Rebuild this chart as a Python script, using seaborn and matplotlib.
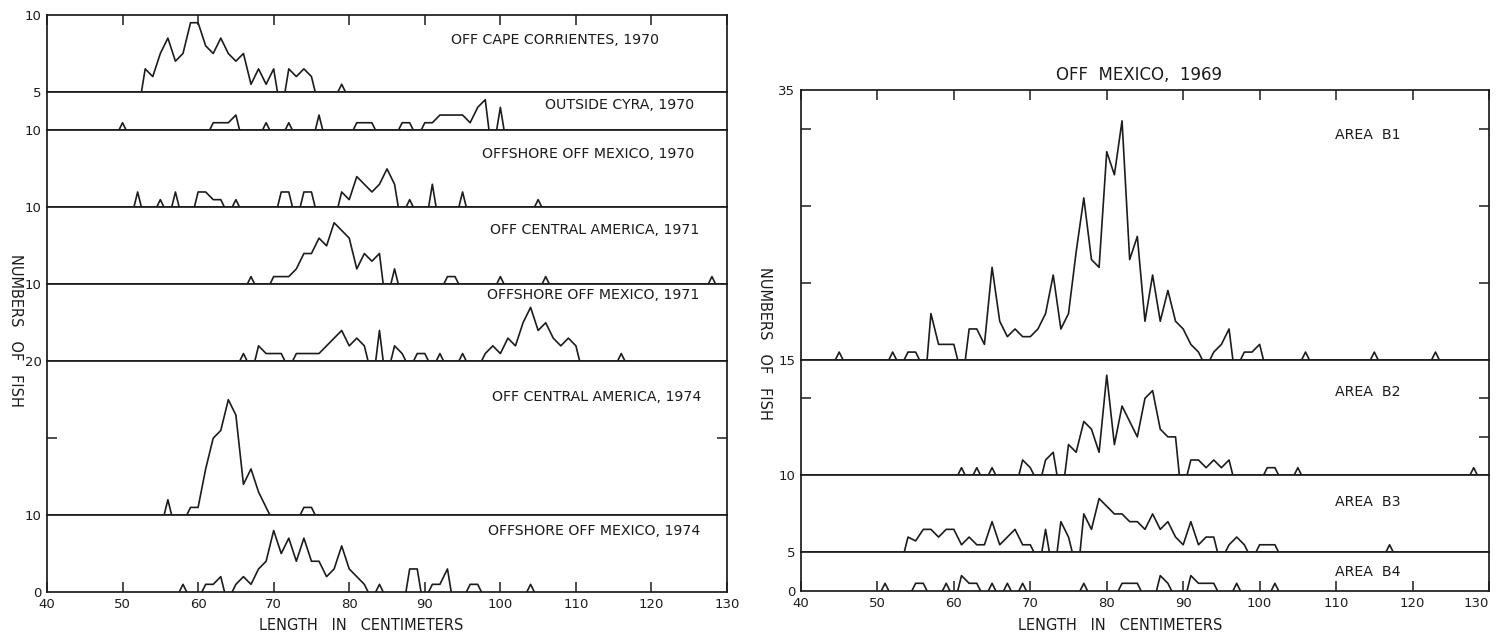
import numpy as np
import pandas as pd
import matplotlib
matplotlib.use("Agg")
import matplotlib.pyplot as plt
import seaborn as sns

# ---------------- data: fish counts per 1-cm length class ----------------
# Left block (several areas / years)
cape70_len = [53, 54, 55, 56, 57, 58, 59, 60, 61, 62, 63, 64, 65, 66, 67, 68, 69, 70, 72, 73, 74, 75, 79]
cape70_n = [3, 2, 5, 7, 4, 5, 9, 9, 6, 5, 7, 5, 4, 5, 1, 3, 1, 3, 3, 2, 3, 2, 1]

cyra70_len = [50, 62, 63, 64, 65, 69, 72, 76, 81, 82, 83, 87, 88, 90, 91, 92, 93, 94, 95, 96, 97, 98, 100]
cyra70_n = [1, 1, 1, 1, 2, 1, 1, 2, 1, 1, 1, 1, 1, 1, 1, 2, 2, 2, 2, 1, 3, 4, 3]

mex70_len = [52, 55, 57, 60, 61, 62, 63, 65, 71, 72, 74, 75, 79, 80, 81, 82, 83, 84, 85, 86, 88, 91, 95, 105]
mex70_n = [2, 1, 2, 2, 2, 1, 1, 1, 2, 2, 2, 2, 2, 1, 4, 3, 2, 3, 5, 3, 1, 3, 2, 1]

ca71_len = [67, 70, 71, 72, 73, 74, 75, 76, 77, 78, 79, 80, 81, 82, 83, 84, 86, 93, 94, 100, 106, 128]
ca71_n = [1, 1, 1, 1, 2, 4, 4, 6, 5, 8, 7, 6, 2, 4, 3, 4, 2, 1, 1, 1, 1, 1]

mex71_len = [66, 68, 69, 70, 71, 73, 74, 75, 76, 77, 78, 79, 80, 81, 82, 84, 86, 87, 89, 90, 92, 95,
             98, 99, 100, 101, 102, 103, 104, 105, 106, 107, 108, 109, 110, 116]
mex71_n = [1, 2, 1, 1, 1, 1, 1, 1, 1, 2, 3, 4, 2, 3, 2, 4, 2, 1, 1, 1, 1, 1,
           1, 2, 1, 3, 2, 5, 7, 4, 5, 3, 2, 3, 2, 1]

ca74_len = [56, 59, 60, 61, 62, 63, 64, 65, 66, 67, 68, 69, 74, 75]
ca74_n = [2, 1, 1, 6, 10, 11, 15, 13, 4, 6, 3, 1, 1, 1]

mex74_len = [58, 61, 62, 63, 65, 66, 67, 68, 69, 70, 71, 72, 73, 74, 75, 76, 77, 78, 79, 80, 81, 82,
             84, 88, 89, 91, 92, 93, 96, 97, 104]
mex74_n = [1, 1, 1, 2, 1, 2, 1, 3, 4, 8, 5, 7, 4, 7, 4, 4, 2, 3, 6, 3, 2, 1,
           1, 3, 3, 1, 1, 3, 1, 1, 1]

# Right block (off Mexico, 1969, by area)
b1_len = [45, 52, 54, 55, 57, 58, 59, 60, 62, 63, 64, 65, 66, 67, 68, 69, 70, 71, 72, 73, 74, 75, 76, 77,
          78, 79, 80, 81, 82, 83, 84, 85, 86, 87, 88, 89, 90, 91, 92, 94, 95, 96, 98, 99, 100, 106, 115, 123]
b1_n = [1, 1, 1, 1, 6, 2, 2, 2, 4, 4, 2, 12, 5, 3, 4, 3, 3, 4, 6, 11, 4, 6, 14, 21,
        13, 12, 27, 24, 31, 13, 16, 5, 11, 5, 9, 5, 4, 2, 1, 1, 2, 4, 1, 1, 2, 1, 1, 1]

b2_len = [61, 63, 65, 69, 70, 72, 73, 75, 76, 77, 78, 79, 80, 81, 82, 83, 84, 85, 86, 87, 88, 89,
          91, 92, 93, 94, 95, 96, 101, 102, 105, 128]
b2_n = [1, 1, 1, 2, 1, 2, 3, 4, 3, 7, 6, 3, 13, 4, 9, 7, 5, 10, 11, 6, 5, 5,
        2, 2, 1, 2, 1, 2, 1, 1, 1, 1]

b3_len = [54, 55, 56, 57, 58, 59, 60, 61, 62, 63, 64, 65, 66, 67, 68, 69, 70, 72, 74, 75, 77, 78, 79, 80,
          81, 82, 83, 84, 85, 86, 87, 88, 89, 90, 91, 92, 93, 94, 96, 97, 98, 100, 101, 102, 117]
b3_n = [2, 1.5, 3, 3, 2, 3, 3, 1, 2, 1, 1, 4, 1, 2, 3, 1, 1, 3, 4, 2, 5, 3, 7, 6,
        5, 5, 4, 4, 3, 5, 3, 4, 2, 1, 4, 1, 2, 2, 1, 2, 1, 1, 1, 1, 1]

b4_len = [51, 55, 56, 59, 61, 62, 63, 65, 67, 69, 77, 82, 83, 84, 87, 88, 91, 92, 93, 94, 97, 102]
b4_n = [1, 1, 1, 1, 2, 1, 1, 1, 1, 1, 1, 1, 1, 1, 2, 1, 2, 1, 1, 1, 1, 1]

left_titles = ["OFF CAPE CORRIENTES, 1970", "OUTSIDE CYRA, 1970", "OFFSHORE OFF MEXICO, 1970",
               "OFF CENTRAL AMERICA, 1971", "OFFSHORE OFF MEXICO, 1971",
               "OFF CENTRAL AMERICA, 1974", "OFFSHORE OFF MEXICO, 1974"]
left_series = [(cape70_len, cape70_n), (cyra70_len, cyra70_n), (mex70_len, mex70_n),
               (ca71_len, ca71_n), (mex71_len, mex71_n), (ca74_len, ca74_n), (mex74_len, mex74_n)]
left_max = [10, 5, 10, 10, 10, 20, 10]

right_titles = ["AREA  B1", "AREA  B2", "AREA  B3", "AREA  B4"]
right_series = [(b1_len, b1_n), (b2_len, b2_n), (b3_len, b3_n), (b4_len, b4_n)]
right_max = [35, 15, 10, 5]

x_ticks = list(range(40, 131, 10))

# ---------------- style ----------------
sns.set_theme(style="white")
plt.rcParams["font.family"] = ["DejaVu Sans"]
INK = "#1c1c1c"
LW = 1.2


def polygon_frame(lengths, counts):
    """Frequency polygon: each run of non-empty classes closes to zero half a class away."""
    rows, run, prev = [], 0, None
    for L, n in zip(lengths, counts):
        if prev is None or L != prev + 1:
            if prev is not None:
                rows.append((prev + 0.5, 0.0, run))
                run += 1
            rows.append((L - 0.5, 0.0, run))
        rows.append((L, n, run))
        prev = L
    rows.append((prev + 0.5, 0.0, run))
    return pd.DataFrame(rows, columns=["length", "fish", "run"])


def draw_panel(ax, lengths, counts, ymax, is_top, is_bottom, left_minor, right_minor, edge_label_right):
    df = polygon_frame(lengths, counts)
    sns.lineplot(data=df, x="length", y="fish", units="run", estimator=None, sort=False,
                 color=INK, linewidth=LW, ax=ax, legend=False)
    ax.set_xlim(40, 130)
    ax.set_ylim(0, ymax)
    ax.set_xlabel("")
    ax.set_ylabel("")
    for sp in ax.spines.values():
        sp.set_color(INK)
        sp.set_linewidth(1.25)
    # y labels only at panel tops (and zero on the lowest panel)
    yt = [0, ymax] if is_bottom else [ymax]
    ax.set_yticks(yt)
    ax.set_yticklabels([str(v) for v in yt])
    ax.tick_params(axis="y", which="major", length=0, pad=4, labelsize=9.5, labelcolor=INK)
    ax.set_yticks(left_minor, minor=True)
    ax.tick_params(axis="y", which="minor", left=True, right=False, direction="in",
                   length=7, width=1.1, color=INK)
    if right_minor:
        sec = ax.secondary_yaxis("right")
        sec.set_yticks(right_minor)
        sec.set_yticklabels([])
        sec.tick_params(direction="in", length=7, width=1.1, color=INK)
        sec.spines["right"].set_visible(False)
    ax.set_xticks(x_ticks)
    ax.set_xticklabels([str(v) for v in x_ticks])
    ax.tick_params(axis="x", which="major", direction="in", length=7, width=1.1, color=INK,
                   top=is_top, bottom=is_bottom, labelbottom=is_bottom, labeltop=False,
                   labelsize=9.5, labelcolor=INK, pad=4)
    if is_bottom and edge_label_right:
        last = ax.get_xticklabels()[-1]
        last.set_horizontalalignment("right")


fig = plt.figure(figsize=(14.96, 6.34), dpi=100)
fig.patch.set_facecolor("white")

gs_left = fig.add_gridspec(len(left_max), 1, left=0.0314, right=0.486, top=0.9763, bottom=0.0662,
                           hspace=0, height_ratios=left_max)
gs_right = fig.add_gridspec(len(right_max), 1, left=0.5354, right=0.9953, top=0.858, bottom=0.0678,
                            hspace=0, height_ratios=right_max)

left_minor = [[], [], [], [], [], [10], []]
left_label_x = [121.0, 125.6, 125.6, 126.3, 126.3, 126.6, 126.5]
left_label_y = [0.675, 0.667, 0.70, 0.70, 0.857, 0.766, 0.79]

for i, ((L, n), ymax, title) in enumerate(zip(left_series, left_max, left_titles)):
    ax = fig.add_subplot(gs_left[i])
    draw_panel(ax, L, n, ymax, i == 0, i == len(left_max) - 1, left_minor[i], left_minor[i], False)
    ax.text(left_label_x[i], left_label_y[i], title, transform=ax.get_xaxis_transform(),
            ha="right", va="center", fontsize=10.2, color=INK)

right_left_minor = [[10, 20, 30], [10], [], []]
right_right_minor = [[10, 20, 30], [5, 10], [], []]
right_label_y = [0.833, 0.718, 0.65, 0.50]

for i, ((L, n), ymax, title) in enumerate(zip(right_series, right_max, right_titles)):
    ax = fig.add_subplot(gs_right[i])
    draw_panel(ax, L, n, ymax, i == 0, i == len(right_max) - 1,
               right_left_minor[i], right_right_minor[i], True)
    ax.text(109.8, right_label_y[i], title, transform=ax.get_xaxis_transform(),
            ha="left", va="center", fontsize=10.2, color=INK)

W, H = 1496.0, 634.0
fig.text(1139 / W, 1 - 75 / H, "OFF  MEXICO,  1969", ha="center", va="center", fontsize=12, color=INK)
fig.text(361 / W, 1 - 625 / H, "LENGTH   IN   CENTIMETERS", ha="center", va="center", fontsize=10.5, color=INK)
fig.text(1120 / W, 1 - 625 / H, "LENGTH   IN   CENTIMETERS", ha="center", va="center", fontsize=10.5, color=INK)
fig.text(15 / W, 1 - 330 / H, "NUMBERS   OF   FISH", rotation=-90, ha="center", va="center",
         fontsize=10.5, color=INK)
fig.text(764 / W, 1 - 343 / H, "NUMBERS   OF   FISH", rotation=-90, ha="center", va="center",
         fontsize=10.5, color=INK)

fig.savefig("out.png", dpi=100, facecolor="white")
